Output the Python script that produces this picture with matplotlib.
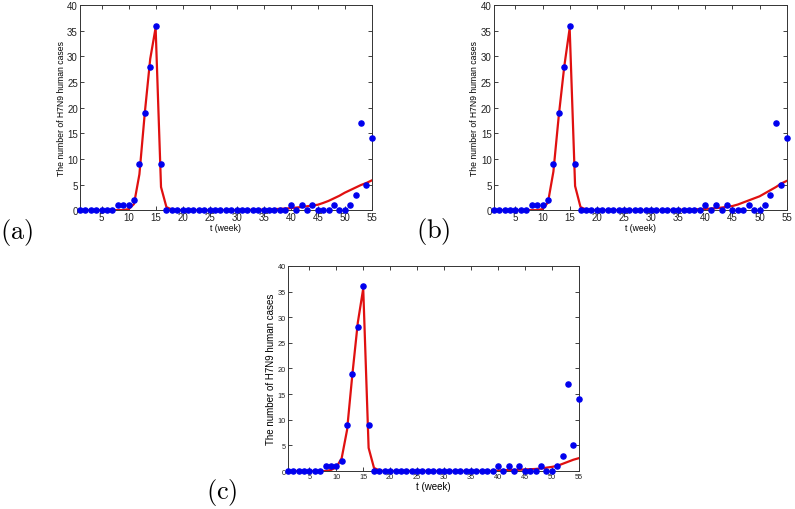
import matplotlib
matplotlib.use("Agg")
import matplotlib.pyplot as plt
import numpy as np

plt.rcParams['mathtext.fontset'] = 'cm'
plt.rcParams['font.family'] = ['Liberation Sans', 'DejaVu Sans']

# weekly reported H7N9 human cases (weeks 1..55)
weeks = list(range(1, 56))
cases = [0, 0, 0, 0, 0, 0, 0, 1, 1, 1,
         2, 9, 19, 28, 36, 9, 0, 0, 0, 0,
         0, 0, 0, 0, 0, 0, 0, 0, 0, 0,
         0, 0, 0, 0, 0, 0, 0, 0, 0, 1,
         0, 1, 0, 1, 0, 0, 0, 1, 0, 0,
         1, 3, 17, 5, 14]

# model fits for the three panels
fit_a = [0, 0, 0, 0, 0, 0, 0, 0, 0, 0.2,
         1.2, 7.0, 19.0, 29.5, 35.6, 4.5, 0.6, 0.1, 0, 0,
         0, 0, 0, 0, 0, 0, 0, 0, 0, 0,
         0, 0.05, 0.05, 0.1, 0.1, 0.15, 0.2, 0.25, 0.3, 0.4,
         0.5, 0.6, 0.75, 0.9, 1.05, 1.4, 1.8, 2.3, 2.8, 3.4,
         3.9, 4.4, 4.9, 5.3, 5.8]
fit_b = [0, 0, 0, 0, 0, 0, 0, 0, 0, 0.2,
         1.5, 7.5, 18.5, 28.0, 35.5, 4.7, 0.6, 0.1, 0, 0,
         0, 0, 0, 0, 0, 0, 0, 0, 0, 0,
         0, 0, 0, 0.05, 0.05, 0.1, 0.1, 0.15, 0.2, 0.25,
         0.3, 0.4, 0.5, 0.65, 0.8, 1.1, 1.5, 1.9, 2.3, 2.7,
         3.3, 3.9, 4.5, 5.2, 5.7]
fit_c = [0, 0, 0, 0, 0, 0, 0, 0, 0.2, 0.7,
         2.5, 8.0, 19.0, 29.0, 35.6, 4.5, 0.6, 0.1, 0, 0,
         0, 0, 0, 0, 0, 0, 0, 0, 0, 0,
         0, 0, 0, 0, 0, 0, 0, 0, 0, 0.1,
         0.15, 0.2, 0.2, 0.25, 0.3, 0.35, 0.4, 0.5, 0.65, 0.8,
         1.0, 1.4, 1.8, 2.2, 2.5]

xticks = [5, 10, 15, 20, 25, 30, 35, 40, 45, 50, 55]
yticks = [0, 5, 10, 15, 20, 25, 30, 35, 40]

fig = plt.figure(figsize=(7.95, 5.1), dpi=100)

panels = [
    ([0.1006, 0.586, 0.367, 0.402], fit_a, '(a)', (0.0, 0.545), 7, 6.2),
    ([0.621, 0.586, 0.3686, 0.402], fit_b, '(b)', (0.523, 0.547), 7, 6.2),
    ([0.362, 0.0745, 0.366, 0.402], fit_c, '(c)', (0.259, 0.035), 5.3, 7),
]

for rect, fit, lab, lpos, tfs, lfs in panels:
    ax = fig.add_axes(rect)
    ax.plot(weeks, fit, color='#e01010', lw=1.6, zorder=2)
    ax.plot(weeks, cases, 'o', color='#0000ee', ms=3.7, mec='#0000ee', zorder=3, clip_on=False)
    ax.set_xlim(1, 55)
    ax.set_ylim(0, 40)
    ax.set_xticks(xticks)
    ax.set_yticks(yticks)
    ax.tick_params(direction='in', top=True, right=True, length=3, width=0.6,
                   labelsize=tfs, pad=1.5, colors='#222222')
    for s in ax.spines.values():
        s.set_linewidth(0.7)
        s.set_color('#333333')
    ax.set_xlabel('t (week)', fontsize=lfs, labelpad=0.5)
    ax.set_ylabel('The number of H7N9 human cases', fontsize=lfs, labelpad=1)
    fig.text(lpos[0], lpos[1], r'$\mathrm{' + lab + '}$', fontsize=19, ha='left', va='center')

fig.savefig('out.png', dpi=100)
